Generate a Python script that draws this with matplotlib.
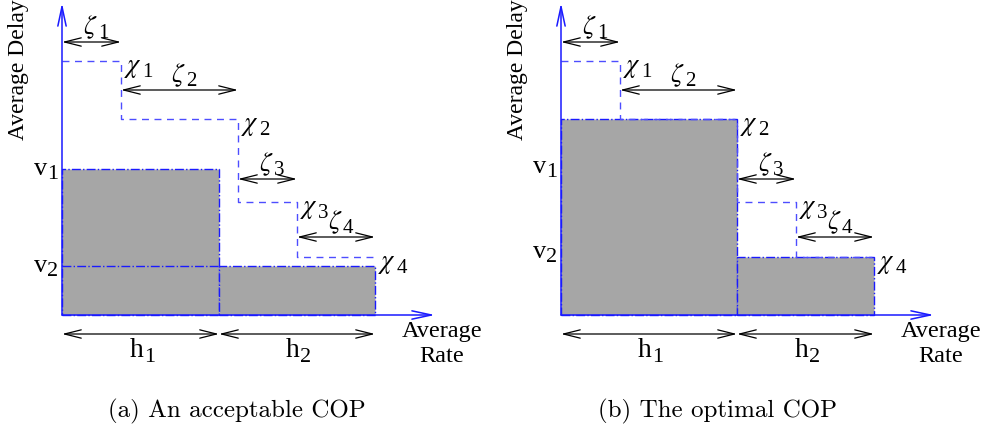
import matplotlib
matplotlib.use('Agg')
import matplotlib.pyplot as plt
from matplotlib.patches import Rectangle

plt.rcParams['font.family'] = 'Liberation Serif'
plt.rcParams['mathtext.fontset'] = 'stix'

# staircase (same in both panels), pixel-like units from the origin
zeta_widths = [59, 117, 59, 78]
chi_levels = [254, 196, 113, 58]
zeta_arrow_y = [273, 225, 136, 78]

# panel a: acceptable COP
h_a = [157, 156]
v_a = [146, 49]
vlab_a = [140, 43]
# panel b: optimal COP
h_b = [176, 137]
v_b = [196, 58]
vlab_b = [142, 57]

captions = ['(a) An acceptable COP', '(b) The optimal COP']

BLUE = '#1a1aff'
DASHBLUE = '#4d4dff'
GRAY = '#a6a6a6'


def arrow2(ax, x0, x1, y):
    ax.annotate('', xy=(x1, y), xytext=(x0, y),
                arrowprops=dict(arrowstyle='<->,head_length=1.2,head_width=0.3',
                                lw=0.9, color='black', shrinkA=0, shrinkB=0))


def sublabel(ax, x, y, base, sub, ha='left', size=20, subsize=16, dy=0.5):
    # base symbol with a big, lowered index like the original drawing
    t = ax.text(x, y, base, ha=ha, va='baseline', fontsize=size)
    ax.annotate(sub, xy=(1, 0), xycoords=t, xytext=(0.3, dy),
                textcoords='offset points', ha='left', va='baseline',
                fontsize=subsize)


def draw_panel(ax, h, v, vlab, extra_line):
    # gray rectangles
    ax.add_patch(Rectangle((0, 0), h[0], v[0], facecolor=GRAY, edgecolor=BLUE,
                           lw=1.0, ls='-.', zorder=1))
    ax.add_patch(Rectangle((h[0], 0), h[1], v[1], facecolor=GRAY, edgecolor=BLUE,
                           lw=1.0, ls='-.', zorder=1))
    if extra_line:
        ax.plot([0, h[0]], [v[1], v[1]], color=BLUE, lw=1.0, ls='-.', zorder=2)

    # staircase
    xs, ys = [0], [chi_levels[0]]
    x = 0
    for i, w in enumerate(zeta_widths):
        x += w
        xs.append(x)
        ys.append(chi_levels[i])
        if i + 1 < len(chi_levels):
            xs.append(x)
            ys.append(chi_levels[i + 1])
    ax.plot(xs, ys, color=DASHBLUE, lw=1.0, dashes=(5, 4), zorder=3)

    # zeta arrows and chi labels
    x = 0
    for i, w in enumerate(zeta_widths):
        arrow2(ax, x, x + w, zeta_arrow_y[i])
        sublabel(ax, x + w / 2 - 1, zeta_arrow_y[i] + 8, r'$\zeta$', str(i + 1),
                 ha='center', size=19, subsize=15, dy=2)
        x += w
        sublabel(ax, x + 3, chi_levels[i] - 11, r'$\chi$', str(i + 1),
                 size=19, subsize=15, dy=2)

    # axes arrows
    ax.annotate('', xy=(0, 312), xytext=(0, 0),
                arrowprops=dict(arrowstyle='->,head_length=1.4,head_width=0.3',
                                lw=1.1, color=BLUE, shrinkA=0, shrinkB=0))
    ax.annotate('', xy=(373, 0), xytext=(0, 0),
                arrowprops=dict(arrowstyle='->,head_length=1.4,head_width=0.3',
                                lw=1.1, color=BLUE, shrinkA=0, shrinkB=0))

    # h arrows
    arrow2(ax, 0, h[0], -19)
    arrow2(ax, h[0], h[0] + h[1], -19)
    sublabel(ax, h[0] / 2 - 4, -42, 'h', '1', ha='center', size=20, subsize=16)
    sublabel(ax, h[0] + h[1] / 2 - 4, -42, 'h', '2', ha='center', size=20, subsize=16)

    # v labels
    sublabel(ax, -15, vlab[0], 'v', '1', ha='right', size=19, subsize=16)
    sublabel(ax, -15, vlab[1], 'v', '2', ha='right', size=19, subsize=16)

    ax.text(380, -29, 'Average\nRate', ha='center', va='center', fontsize=17.5,
            linespacing=1.2)
    ax.text(-44, 245, 'Average Delay', ha='center', va='center', fontsize=17,
            rotation=90)

    ax.set_ylim(-125, 315)
    ax.axis('off')


fig = plt.figure(figsize=(9.85, 4.4), dpi=100)
ax1 = fig.add_axes([0, 0, 490 / 985, 1])
ax1.set_xlim(-62, 428)
draw_panel(ax1, h_a, v_a, vlab_a, True)

ax2 = fig.add_axes([499 / 985, 0, 486 / 985, 1])
ax2.set_xlim(-62, 424)
draw_panel(ax2, h_b, v_b, vlab_b, False)

fig.text(237 / 985, 1 - 411 / 440, captions[0], ha='center', va='center',
         fontsize=18, family='cmr10')
fig.text(718 / 985, 1 - 411 / 440, captions[1], ha='center', va='center',
         fontsize=18, family='cmr10')

fig.savefig('out.png', dpi=100)
